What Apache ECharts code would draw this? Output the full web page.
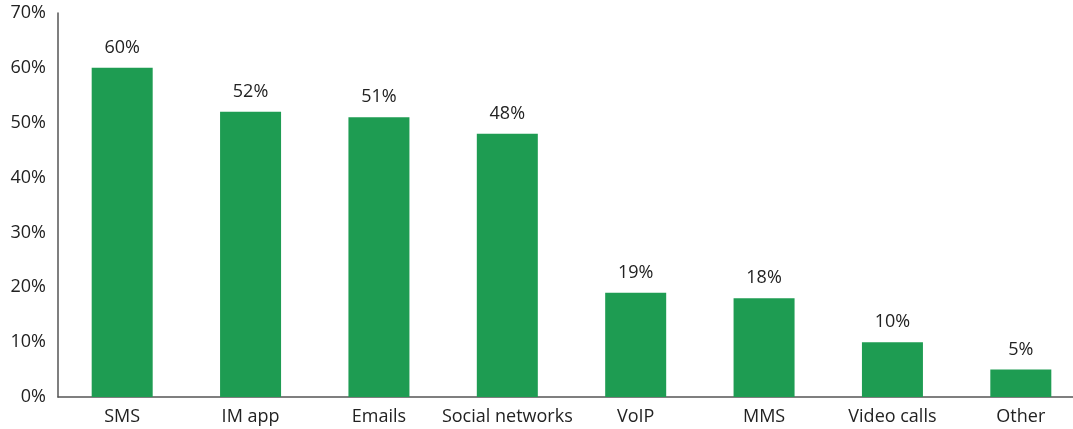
<!DOCTYPE html>
<html><head><meta charset="utf-8">
<script src="https://cdn.jsdelivr.net/npm/echarts@6/dist/echarts.min.js"></script>
<style>html,body{margin:0;padding:0;background:#fff;overflow:hidden}#c{width:1090px;height:429px}</style>
</head><body><div id="c"></div>
<script>
const categories = ["SMS","IM app","Emails","Social networks","VoIP","MMS","Video calls","Other"];
const values = [60,52,51,48,19,18,10,5];
const yTicks = [0,10,20,30,40,50,60,70];

const chart = echarts.init(document.getElementById('c'), null, {renderer:'canvas'});
const font = "'Open Sans', 'DejaVu Sans', sans-serif";
chart.setOption({
  animation:false,
  grid:{left:58,right:5,top:13,bottom:32,containLabel:false},
  xAxis:{type:'category',data:categories,
    axisLine:{lineStyle:{color:'#555',width:1.5}},axisTick:{show:false},
    axisLabel:{color:'#222',fontSize:18,fontFamily:font,margin:11,interval:0}},
  yAxis:{type:'value',min:yTicks[0],max:yTicks[yTicks.length-1],interval:10,
    axisLine:{show:true,lineStyle:{color:'#555',width:1.5}},axisTick:{show:false},
    splitLine:{show:false},
    axisLabel:{color:'#222',fontSize:18,fontFamily:font,margin:12,formatter:'{value}%'}},
  series:[{type:'bar',data:values,barWidth:61,
    itemStyle:{color:'#1e9c52'},
    label:{show:true,position:'top',distance:11,color:'#222',fontSize:18,fontFamily:font,formatter:'{c}%'}}]
});
</script></body></html>
